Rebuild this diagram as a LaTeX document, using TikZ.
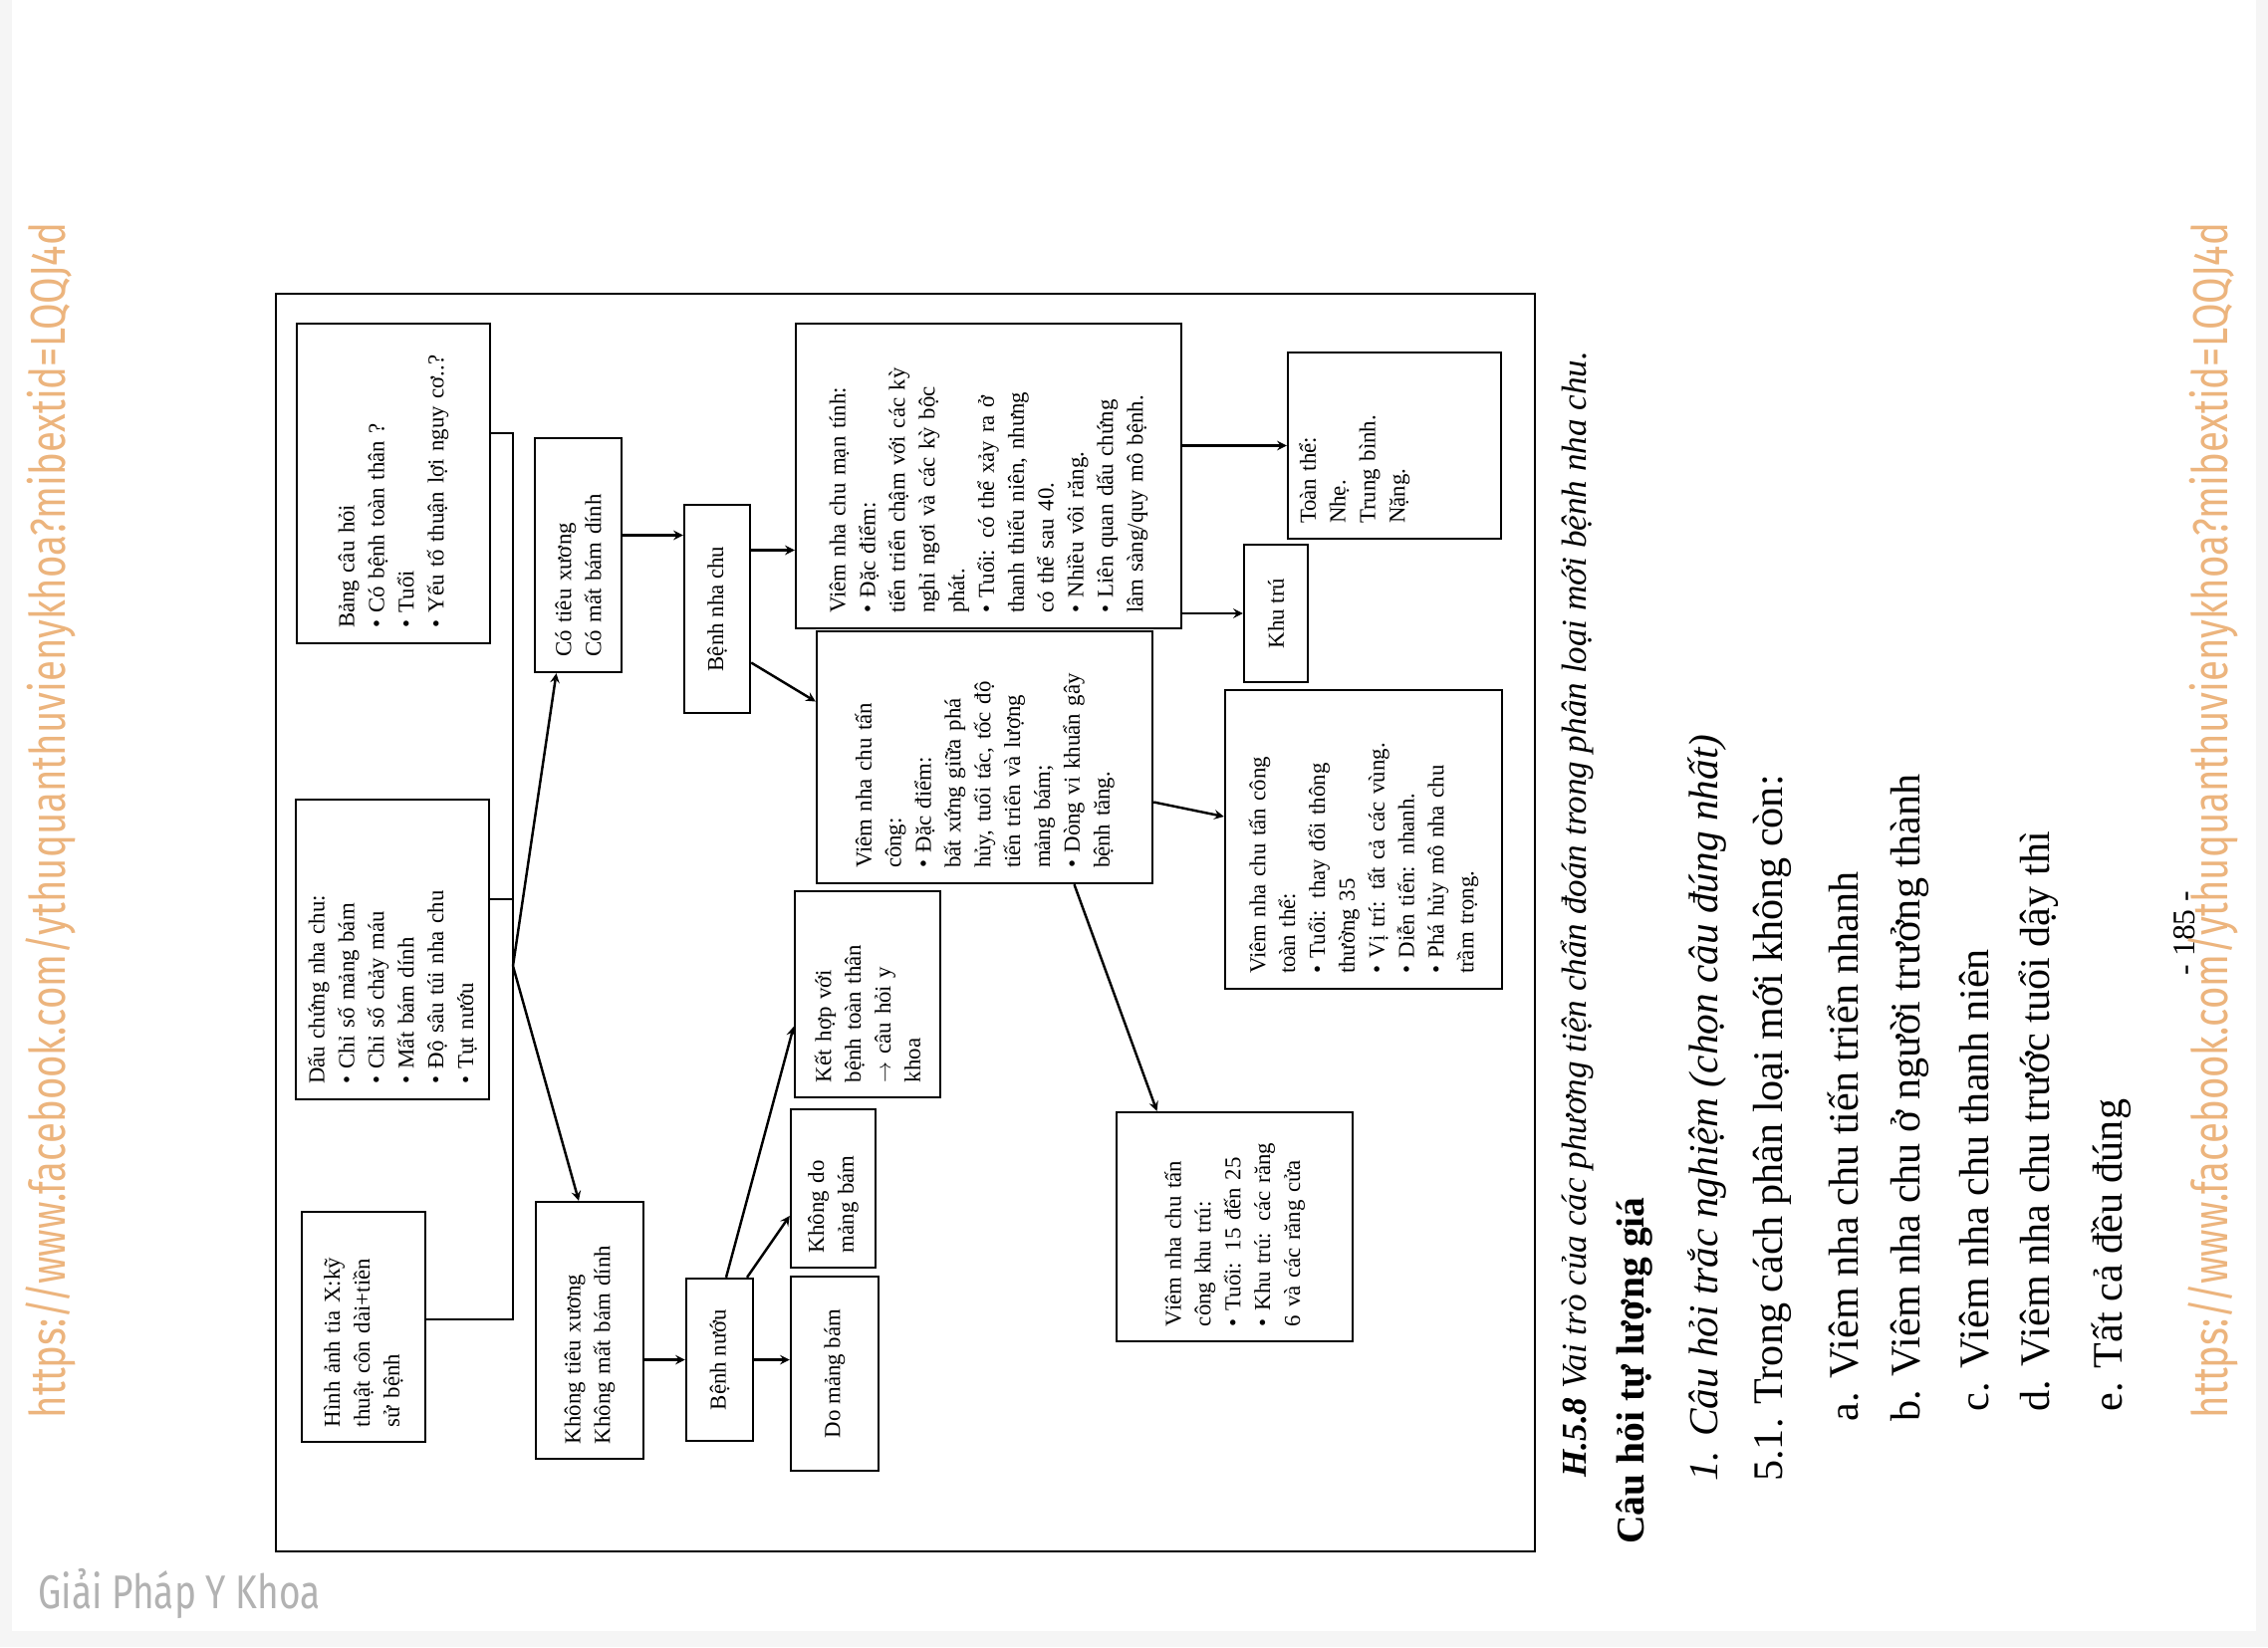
\documentclass[tikz,border=0pt]{standalone}
\usepackage{fontspec}
\setmainfont{Liberation Serif}
\newfontfamily\wmfont{Fira Sans}[FakeStretch=0.78]
\usetikzlibrary{calc}
\definecolor{wmorange}{RGB}{236,180,125}
\definecolor{brandgray}{RGB}{178,178,178}

\begin{document}
\begin{tikzpicture}[
    x=0.02cm, y=-0.02cm,
    box/.style={
        rectangle,
        draw,
        rotate=90,
        line width=1.4pt,
        inner xsep=0.3cm,
        inner ysep=0.1cm,
        align=left,
        font=\fontsize{13}{17}\selectfont
    },
    onebox/.style={box, align=center},
    line/.style={line width=1.4pt},
    arrow/.style={->, >=stealth, line width=1.4pt},
    pagetext/.style={rotate=90, anchor=west, inner sep=0pt, font=\fontsize{24}{28}\selectfont},
    watermark/.style={rotate=90, inner sep=0pt, text=wmorange, font=\wmfont\fontsize{28}{30}\selectfont}
]

\fill[gray!8] (0,0) rectangle (2277,1654);
\fill[white] (12,0) rectangle (2265,1638);
\useasboundingbox (0,0) rectangle (2277,1654);

\draw[line] (277,295) rectangle (1541,1558);

\node[box, minimum width=6.42cm, minimum height=3.88cm, text width=5.82cm] (bangcauhoi) at (395,485.5)
    {Bảng câu hỏi\\ • Có bệnh toàn thân ?\\ • Tuổi\\ • Yếu tố thuận lợi nguy cơ..?};
\node[box, minimum width=6.02cm, minimum height=3.88cm, text width=5.42cm] (dauchung) at (394,953.5)
    {Dấu chứng nha chu:\\ • Chỉ số mảng bám\\ • Chỉ số chảy máu\\ • Mất bám dính\\ • Độ sâu túi nha chu\\ • Tụt nướu};
\node[box, minimum width=4.62cm, minimum height=2.48cm, text width=4.02cm] (xquang) at (365,1332.5)
    {Hình ảnh tia X:kỹ\\ thuật côn dài+tiền\\ sử bệnh};

\node[box, minimum width=4.7cm, minimum height=1.74cm, text width=4.1cm] (cotieu) at (580.5,557.5)
    {Có tiêu xương\\ Có mất bám dính};
\node[box, minimum width=5.16cm, minimum height=2.16cm, text width=4.56cm] (kotieu) at (592,1336)
    {Không tiêu xương\\ Không mất bám dính};

\node[onebox, minimum width=4.18cm, minimum height=1.32cm] (nhachu) at (720,611.5) {Bệnh nha chu};
\node[onebox, minimum width=3.26cm, minimum height=1.34cm] (benhnuou) at (722.5,1365.5) {Bệnh nướu};
\node[onebox, minimum width=3.9cm, minimum height=1.76cm] (domang) at (838,1379.5) {Do mảng bám};
\node[box, minimum width=3.18cm, minimum height=1.7cm, text width=2.58cm] (khongdo) at (836.5,1193.5)
    {Không do\\ mảng bám};
\node[box, minimum width=4.14cm, minimum height=2.92cm, text width=3.54cm] (kethop) at (871,998.5)
    {Kết hợp với\\ bệnh toàn thân\\ $\rightarrow$ câu hỏi y\\ khoa};

\node[box, minimum width=6.12cm, minimum height=7.74cm, text width=5.52cm] (mantinh) at (992.5,478)
    {Viêm nha chu mạn tính:\\ • Đặc điểm:\\ tiến triển chậm với các kỳ\\ nghỉ ngơi và các kỳ bộc\\ phát.\\
     • Tuổi: có thể xảy ra ở\\ thanh thiếu niên, nhưng\\ có thể sau 40.\\ • Nhiều vôi răng.\\
     • Liên quan dấu chứng\\ lâm sàng/quy mô bệnh.};
\node[box, minimum width=5.06cm, minimum height=6.74cm, text width=4.46cm] (tancong) at (988.5,760.5)
    {Viêm nha chu tấn\\ công:\\ • Đặc điểm:\\ bất xứng giữa phá\\ hủy, tuổi tác, tốc độ\\
     tiến triển và lượng\\ mảng bám;\\ • Dòng vi khuẩn gây\\ bệnh tăng.};

\node[box, minimum width=3.74cm, minimum height=4.28cm, text width=3.14cm, text depth=3.5cm] (toanthe) at (1400,447.5)
    {Toàn thể:\\ Nhẹ.\\ Trung bình.\\ Nặng.};
\node[onebox, minimum width=2.76cm, minimum height=1.28cm] (khutru) at (1281,616) {Khu trú};
\node[box, minimum width=6.0cm, minimum height=5.56cm, text width=5.4cm] (tctoanthe) at (1369,843)
    {Viêm nha chu tấn công\\ toàn thể:\\ • Tuổi: thay đổi thông\\ thường 35\\ • Vị trí: tất cả các vùng.\\
     • Diễn tiến: nhanh.\\ • Phá hủy mô nha chu\\ trầm trọng.};
\node[box, minimum width=4.6cm, minimum height=4.74cm, text width=4.0cm] (tckhutru) at (1239.5,1232)
    {Viêm nha chu tấn\\ công khu trú:\\ • Tuổi: 15 đến 25\\ • Khu trú: các răng\\ 6 và các răng cửa};

\coordinate (bus1) at (515,435);
\coordinate (bus2) at (515,903);
\coordinate (bus3) at (515,1325);
\coordinate (fork) at (515,970);

\draw[line] (bus1 -| bangcauhoi.south) -- (bus1) -- (bus3) -- (bus3 -| xquang.south);
\draw[line] (bus2 -| dauchung.south) -- (bus2);
\draw[arrow] (fork) -- ($(cotieu.west)+(-22,0)$);
\draw[arrow] (fork) -- ($(kotieu.east)+(-11,0)$);

\draw[arrow] ($(cotieu.south)+(0,-20)$) coordinate (c1) -- (c1 -| nhachu.north);
\draw[arrow] ($(nhachu.south)+(0,-59)$) coordinate (c2) -- (c2 -| mantinh.north);
\draw[arrow] ($(nhachu.south)+(0,54)$) -- ($(tancong.north)+(0,-56)$);
\draw[arrow] (mantinh.south |- toanthe.north) -- (toanthe.north);
\draw[arrow] (mantinh.south |- khutru.north) -- (khutru.north);
\draw[arrow] ($(tancong.south)+(0,45)$) -- ($(tctoanthe.north)+(0,-23)$);
\draw[arrow] ($(tancong.west)+(90,0)$) -- ($(tckhutru.east)+(-78,0)$);

\draw[arrow] (kotieu.south |- benhnuou.north) -- (benhnuou.north);
\draw[arrow] (benhnuou.south) -- (benhnuou.south -| domang.north);
\draw[arrow] ($(benhnuou.east)+(27.5,0)$) -- ($(khongdo.north)+(0,27.5)$);
\draw[arrow] ($(benhnuou.east)+(6.5,0)$) -- ($(kethop.north)+(0,32.5)$);

\node[pagetext, font=\fontsize{20}{24}\selectfont] (caption) at (1583,1484)
    {\textbf{\textit{H.5.8}} \textit{Vai trò của các phương tiện chẩn đoán trong phân loại mới bệnh nha chu.}};
\node[pagetext, font=\bfseries\fontsize{22.5}{26}\selectfont] (heading) at (1641,1551) {Câu hỏi tự lượng giá};
\node[pagetext, font=\itshape\fontsize{23.5}{28}\selectfont] (question) at (1714,1488) {1. Câu hỏi trắc nghiệm (chọn câu đúng nhất)};
\node[pagetext] (q51) at (1779,1488) {5.1. Trong cách phân loại mới không còn:};
\node[pagetext] (ansa) at (1851,1428) {a. Viêm nha chu tiến triển nhanh};
\node[pagetext] (ansb) at (1917,1428) {b. Viêm nha chu ở người trưởng thành};
\node[pagetext] (ansc) at (1982,1418) {c. Viêm nha chu thanh niên};
\node[pagetext] (ansd) at (2047,1418) {d. Viêm nha chu trước tuổi dậy thì};
\node[pagetext] (anse) at (2120,1418) {e. Tất cả đều đúng};
\node[rotate=90, inner sep=0pt, font=\fontsize{18}{20}\selectfont] (pagenum) at (2193,937) {- 185 -};

\node[watermark] (wmleft) at (51,824) {https://www.facebook.com/ythuquanthuvienykhoa?mibextid=LQQJ4d};
\node[watermark] (wmright) at (2222,824) {https://www.facebook.com/ythuquanthuvienykhoa?mibextid=LQQJ4d};
\node[inner sep=0pt, text=brandgray, font=\wmfont\fontsize{27}{30}\selectfont] (brand) at (180,1600) {Giải Pháp Y Khoa};

\end{tikzpicture}
\end{document}
